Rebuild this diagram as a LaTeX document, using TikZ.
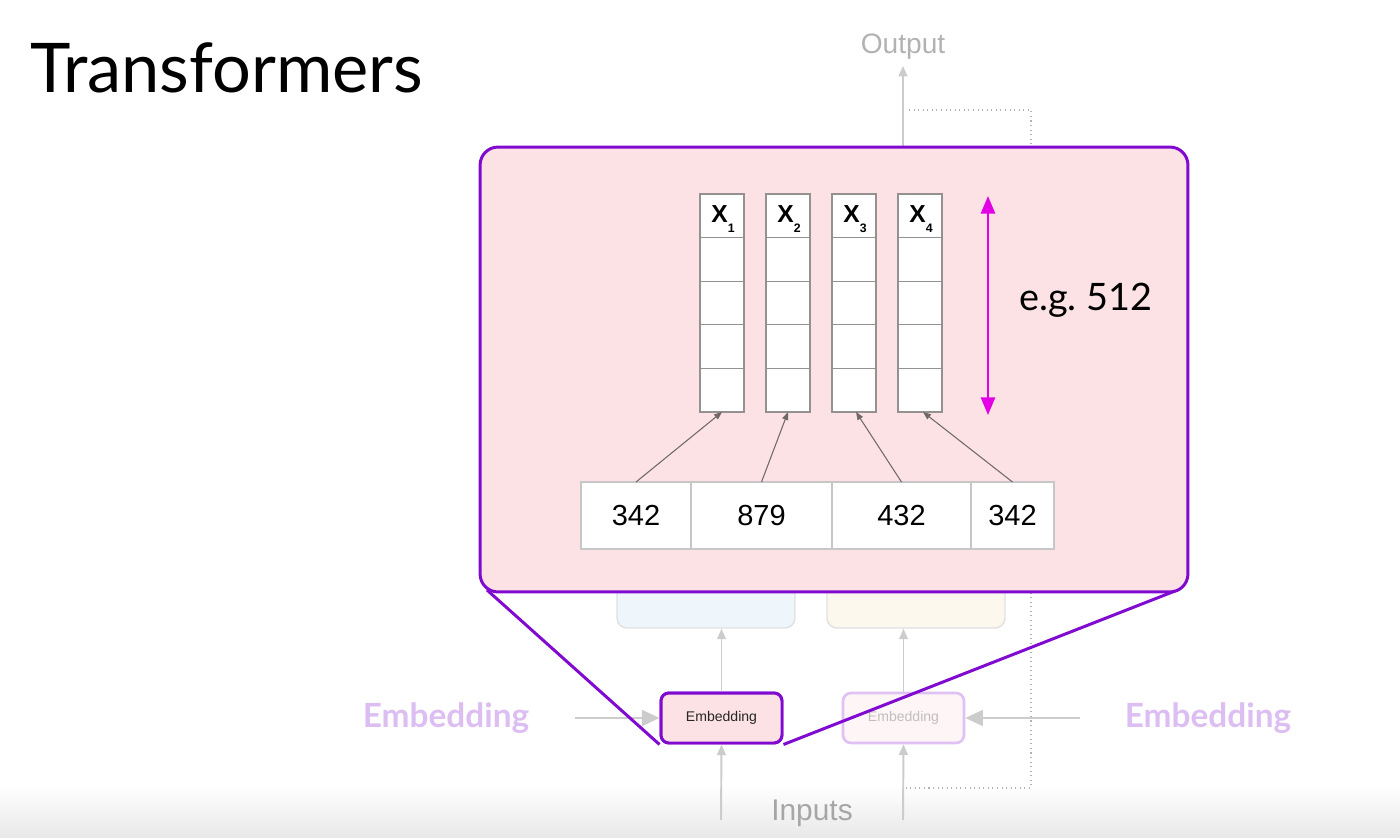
\documentclass[tikz,border=0pt]{standalone}
\usepackage{fontspec}
\setmainfont{Liberation Sans}
\newfontfamily\lato{Lato}
\usetikzlibrary{arrows.meta,calc}
\definecolor{zpurple}{RGB}{128,10,208}
\definecolor{zpink}{RGB}{252,226,228}
\definecolor{zmag}{RGB}{228,0,228}
\definecolor{lpurple}{RGB}{220,190,243}
\definecolor{fgray}{RGB}{204,204,204}
\definecolor{tgray}{RGB}{112,104,104}
\definecolor{cellgray}{RGB}{150,145,145}
\definecolor{encfill}{RGB}{238,246,252}
\definecolor{decfill}{RGB}{253,248,238}
\tikzset{
  garrow/.style={draw=fgray, line width=1.1pt, -{Triangle[width=5pt,length=6pt]}},
  garrowbig/.style={draw=fgray, line width=1.4pt, -{Triangle[width=9pt,length=10pt]}},
  tarrow/.style={draw=tgray, line width=0.6pt, -{Triangle[width=3.5pt,length=4.5pt]}},
  zline/.style={draw=zpurple, line width=1.7pt},
  cell/.style={draw=cellgray, line width=0.7pt, fill=white, minimum width=0.88cm, minimum height=0.872cm, inner sep=0pt, outer sep=0pt},
  tok/.style={draw=black!22, line width=0.6pt, fill=white, minimum height=1.34cm, inner sep=0pt, outer sep=0pt, font=\fontsize{16.5}{18}\selectfont},
  fbox/.style={draw=black!12, line width=0.8pt, rounded corners=0.2cm, minimum width=3.56cm, minimum height=1.2cm},
  dots/.style={draw=black!30, line width=0.6pt, dotted},
  embbox/.style={line width=1.7pt, rounded corners=0.16cm, minimum width=2.42cm, minimum height=1cm, font=\fontsize{8}{9}\selectfont},
}
\begin{document}
\begin{tikzpicture}[x=0.02cm,y=-0.02cm]
\useasboundingbox (0,0) rectangle (1400,838);
\shade[top color=white,bottom color=black!9] (0,785) rectangle (1400,838);

% title
\node[anchor=base west, font=\lato\fontsize{39}{42}\selectfont, inner sep=0pt] (title) at (30,92) {Transformers};

% faded background architecture
\node[text=black!30, font=\fontsize{16}{18}\selectfont] (out) at (903,47) {Output};
\coordinate (outbot) at (903,150);
\draw[garrow] (outbot) -- (out.south);
\coordinate (d1) at (909,110);
\coordinate (d2) at (1031,110);
\coordinate (d3) at (1031,150);
\coordinate (d4) at (1031,588);
\coordinate (d5) at (1031,788);
\coordinate (d6) at (905,788);
\draw[dots] (d1) -- (d2) -- (d3);
\draw[dots] (d4) -- (d5) -- (d6);

\node[fbox, fill=encfill] (enc) at (706,598) {};
\node[fbox, fill=decfill] (dec) at (916,598) {};

\node[embbox, draw=zpurple!25, line width=1.5pt, fill=zpink!35, text=black!25] (emb2) at (903.5,718) {Embedding};

\draw[garrow] (emb2.north) -- (emb2.north |- dec.south);
\coordinate (in2) at (903,820);
\draw[garrow] (in2) -- (emb2.south);

\node[text=black!35, font=\fontsize{17}{19}\selectfont] (inputs) at (812,813) {Inputs};

\node[font=\lato\bfseries\fontsize{19}{22}\selectfont, text=lpurple] (lab1) at (446,718) {Embedding};
\node[font=\lato\bfseries\fontsize{19}{22}\selectfont, text=lpurple] (lab2) at (1208,718) {Embedding};

% highlighted embedding
\node[embbox, draw=zpurple, fill=zpink, text=black!85] (emb) at (721.5,718) {Embedding};
\draw[garrow] (emb.north) -- (emb.north |- enc.south);
\coordinate (in1) at (721,820);
\draw[garrow] (in1) -- (emb.south);
\coordinate (la) at (575,718);
\coordinate (ra) at (1080,718);
\draw[garrowbig] (la) -- (emb.west);
\draw[garrowbig] (ra) -- (emb2.east);

% zoom box
\node[draw=zpurple, line width=1.7pt, fill=zpink, rounded corners=0.36cm, minimum width=14.16cm, minimum height=8.9cm, inner sep=0pt] (big) at (834,369.5) {};
\coordinate (zl) at (487,590);
\coordinate (zr) at (1175,591);
\draw[zline] (zl) -- (emb.south west);
\draw[zline] (zr) -- (emb.south east);
\node[embbox, draw=zpurple, fill=zpink, text=black!85] at (emb) {Embedding};

% vectors
\foreach \i in {1,...,4}{
  \foreach \j in {0,...,4}{
    \node[cell] (v\i-\j) at ({722+(\i-1)*66},{215.8+\j*43.6}) {};
  }
  \node[font=\bfseries\fontsize{14}{14}\selectfont, inner sep=0pt] (xl\i) at ($(v\i-0)+(1,3.5)$) {X\raisebox{-0.8ex}{\fontsize{7}{7}\selectfont\bfseries\i}};
}

% magenta dimension arrow
\coordinate (mtop) at (988,196);
\coordinate (mbot) at (988,415);
\draw[draw=zmag, fill=zmag, line width=1.4pt, {Triangle[width=8pt,length=10pt]}-{Triangle[width=8pt,length=10pt]}] (mtop) -- (mbot);
\node[font=\lato\fontsize{21.5}{24}\selectfont, anchor=west, inner sep=0pt] (eg) at (1019,300) {e.g.\ 512};

% tokens
\node[tok, minimum width=2.2cm] (t1) at (636,515.5) {342};
\node[tok, minimum width=2.82cm] (t2) at (761.5,515.5) {879};
\node[tok, minimum width=2.78cm] (t3) at (901.5,515.5) {432};
\node[tok, minimum width=1.66cm] (t4) at (1012.5,515.5) {342};

\draw[tarrow] (t1.north) -- (v1-4.south);
\draw[tarrow] (t2.north) -- (v2-4.south);
\draw[tarrow] (t3.north) -- ($(v3-4.south)+(2,0)$);
\draw[tarrow] (t4.north) -- ($(v4-4.south)+(3,0)$);
\end{tikzpicture}
\end{document}
